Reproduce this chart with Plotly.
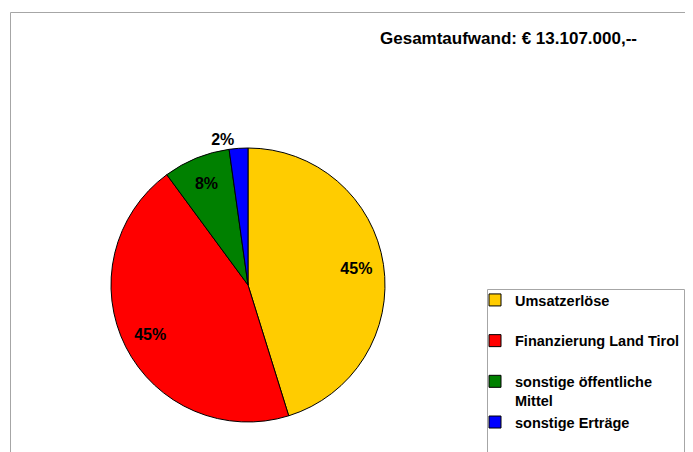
import plotly.graph_objects as go

# page body has an 8px margin, so the figure starts at (8, 8) in the window;
# keep the figure inside the window width so nothing gets cut at the right
OFF = 8
W, H = 693 - 2 * OFF, 452 - OFF

categories = ["Umsatzerlöse", "Finanzierung Land Tirol", "sonstige öffentliche Mittel", "sonstige Erträge"]
legend_labels = ["Umsatzerlöse<br> ", "Finanzierung Land Tirol<br> ", "sonstige öffentliche<br>Mittel", "sonstige Erträge<br> "]
values_eur = [5924000, 5859000, 1035000, 289000]
colors = ["#FFCC00", "#FF0000", "#008000", "#0000FF"]
text_positions = ["inside", "inside", "inside", "outside"]
title_text = "Gesamtaufwand: € 13.107.000,--"

FONT = "Liberation Sans, Arial, sans-serif"
BORDER = "#A6A6A6"


def px_x(x):
    return (x - OFF) / W


def px_y(y):
    return 1 - (y - OFF) / H


cx, cy, r = 248, 285, 137
domain = dict(x=[px_x(cx - r), px_x(cx + r)], y=[px_y(cy + r), px_y(cy - r)])

fig = go.Figure()
# the pie itself
fig.add_trace(go.Pie(
    labels=legend_labels,
    values=values_eur,
    sort=False,
    direction="clockwise",
    rotation=0,
    marker=dict(colors=colors, line=dict(color="black", width=1)),
    textinfo="none",
    customdata=categories,
    hovertemplate="%{customdata}: %{value:,.0f} € (%{percent:.0%})<extra></extra>",
    domain=domain,
))
# percentage labels, placed in a transparent ring so they sit at ~0.8 of the radius
fig.add_trace(go.Pie(
    labels=legend_labels,
    values=values_eur,
    sort=False,
    direction="clockwise",
    rotation=0,
    hole=0.6,
    marker=dict(colors=["rgba(0,0,0,0)"] * len(values_eur), line=dict(width=0)),
    texttemplate="%{percent:.0%}",
    textposition=text_positions,
    insidetextorientation="horizontal",
    textfont=dict(family=FONT, size=16, color="black", weight="bold"),
    hoverinfo="skip",
    showlegend=False,
    domain=domain,
))

shapes = [
    dict(type="line", xref="paper", yref="paper", x0=px_x(10.5), x1=1.0, y0=px_y(12.5), y1=px_y(12.5),
         line=dict(color=BORDER, width=1)),
    dict(type="line", xref="paper", yref="paper", x0=px_x(10.5), x1=px_x(10.5), y0=px_y(12.5), y1=-0.05,
         line=dict(color=BORDER, width=1)),
    dict(type="rect", xref="paper", yref="paper", x0=px_x(487.5), x1=px_x(684.5), y0=-0.05, y1=px_y(289.5),
         line=dict(color=BORDER, width=1)),
]

fig.update_layout(
    width=W, height=H,
    margin=dict(l=0, r=0, t=0, b=0, autoexpand=False),
    paper_bgcolor="white", plot_bgcolor="white",
    font=dict(family=FONT, color="black"),
    title=dict(text=title_text, x=px_x(380), xanchor="left", y=px_y(38), yanchor="middle",
               font=dict(family=FONT, size=17, color="black", weight="bold")),
    legend=dict(x=px_x(475), xanchor="left", y=px_y(284), yanchor="top",
                bgcolor="rgba(0,0,0,0)", borderwidth=0, valign="top",
                font=dict(family=FONT, size=14.5, color="black", weight="bold")),
    shapes=shapes,
    showlegend=True,
)

fig.write_html("out.html")
